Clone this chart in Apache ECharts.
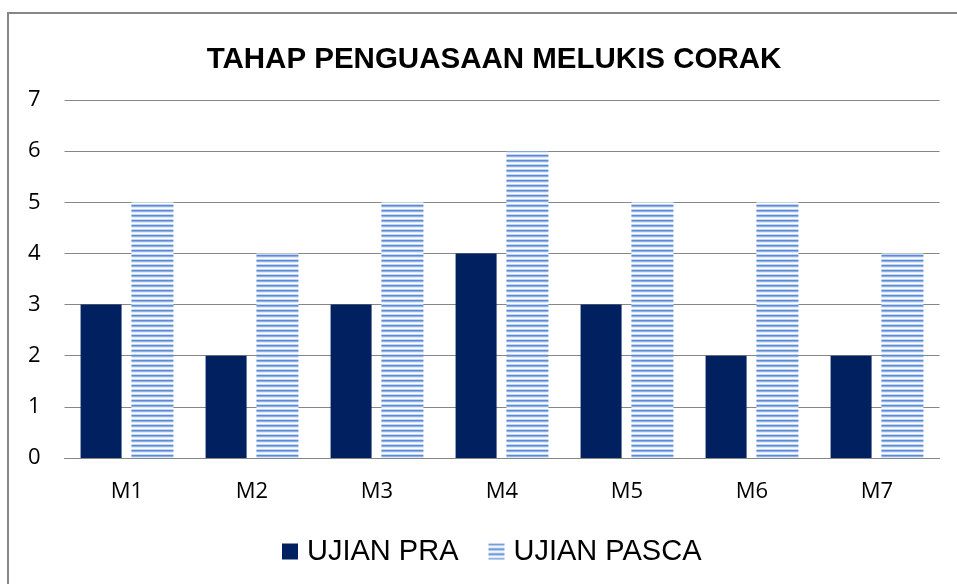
<!DOCTYPE html>
<html>
<head>
<meta charset="utf-8">
<script src="https://cdn.jsdelivr.net/npm/echarts@6/dist/echarts.min.js"></script>
<style>
  html, body { margin: 0; padding: 0; background: #fff; }
  #chart { width: 957px; height: 584px; }
</style>
</head>
<body>
<div id="chart"></div>
<script>
const titleText = 'TAHAP PENGUASAAN MELUKIS CORAK';
const categories = ['M1', 'M2', 'M3', 'M4', 'M5', 'M6', 'M7'];
const seriesNames = ['UJIAN PRA', 'UJIAN PASCA'];
const ujianPra = [3, 2, 3, 4, 3, 2, 2];
const ujianPasca = [5, 4, 5, 6, 5, 5, 4];
const yTicks = { min: 0, max: 7, interval: 1 };

// Horizontal-stripe fill for the post-test bars
function stripeCanvas() {
  const rows = ['#5b8bd6', '#8fb0e3', '#e2eaf7', '#ffffff', '#c3d5ef'];
  const c = document.createElement('canvas');
  c.width = 4;
  c.height = rows.length;
  const ctx = c.getContext('2d');
  rows.forEach((col, i) => {
    ctx.fillStyle = col;
    ctx.fillRect(0, i, 4, 1);
  });
  return c;
}

const chart = echarts.init(document.getElementById('chart'));
chart.setOption({
  backgroundColor: '#ffffff',
  animation: false,
  title: {
    text: titleText,
    left: 489,
    textAlign: 'center',
    top: 40,
    textStyle: { fontFamily: 'Liberation Sans', fontWeight: 'bold', fontSize: 29.5, color: '#000' }
  },
  graphic: [{
    type: 'rect',
    shape: { x: 8, y: 13, width: 1200, height: 1000 },
    style: { fill: 'none', stroke: '#868686', lineWidth: 2 },
    silent: true
  }],
  legend: {
    left: 277,
    top: 532,
    itemWidth: 16,
    itemHeight: 16,
    itemGap: 30,
    textStyle: { fontFamily: 'Liberation Sans', fontSize: 29, color: '#000', padding: [0, 0, 0, 4] },
    data: seriesNames.map(n => ({ name: n, icon: 'rect' }))
  },
  grid: { left: 64.5, right: 17.5, top: 100, bottom: 126, containLabel: false },
  xAxis: {
    type: 'category',
    data: categories,
    axisLine: { lineStyle: { color: '#868686', width: 1 } },
    axisTick: { show: false },
    axisLabel: { margin: 23, fontFamily: 'Open Sans', fontSize: 22, color: '#000' }
  },
  yAxis: {
    type: 'value',
    min: yTicks.min,
    max: yTicks.max,
    interval: yTicks.interval,
    axisLine: { show: false },
    axisTick: { show: false },
    splitLine: { lineStyle: { color: '#868686', width: 1 } },
    axisLabel: { margin: 24, fontFamily: 'Open Sans', fontSize: 22, color: '#000' }
  },
  series: [
    {
      name: seriesNames[0],
      type: 'bar',
      data: ujianPra,
      barWidth: 41,
      barGap: '24%',
      itemStyle: { color: '#002060' }
    },
    {
      name: seriesNames[1],
      type: 'bar',
      data: ujianPasca,
      barWidth: 42,
      itemStyle: { color: { image: stripeCanvas(), repeat: 'repeat' } }
    }
  ]
});
</script>
</body>
</html>
